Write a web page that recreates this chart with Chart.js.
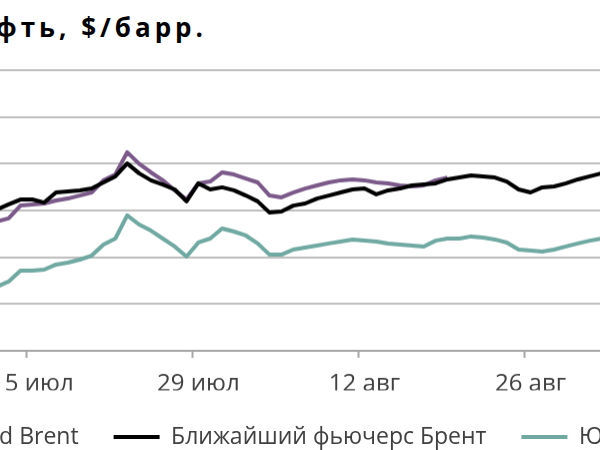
<!DOCTYPE html>
<html>
<head>
<meta charset="utf-8">
<script src="https://cdn.jsdelivr.net/npm/chart.js@4.4.1/dist/chart.umd.min.js"></script>
<style>
  html, body { margin: 0; padding: 0; background: #fff; }
  body { position: relative; width: 600px; height: 450px; overflow: hidden; }
  #title {
    position: absolute; right: 393px; top: 14px;
    font: 700 26px "Open Sans", sans-serif; line-height: 1; letter-spacing: 4px;
    color: #000; white-space: nowrap;
  }
  #wrap { position: absolute; left: -144.5px; top: 0; width: 844.6px; height: 457.5px; }
</style>
</head>
<body>
<div id="title">Цены на нефть, $/барр.</div>
<div id="wrap"><canvas id="oilChart"></canvas></div>
<script>
// daily points, 10 Jul - 8 Sep (the right end is cut off by the frame)
const categories = [
    '10 июл', '11 июл', '12 июл', '13 июл', '14 июл', '15 июл', '16 июл',
    '17 июл', '18 июл', '19 июл', '20 июл', '21 июл', '22 июл', '23 июл',
    '24 июл', '25 июл', '26 июл', '27 июл', '28 июл', '29 июл', '30 июл',
    '31 июл', '1 авг', '2 авг', '3 авг', '4 авг', '5 авг', '6 авг',
    '7 авг', '8 авг', '9 авг', '10 авг', '11 авг', '12 авг', '13 авг',
    '14 авг', '15 авг', '16 авг', '17 авг', '18 авг', '19 авг', '20 авг',
    '21 авг', '22 авг', '23 авг', '24 авг', '25 авг', '26 авг', '27 авг',
    '28 авг', '29 авг', '30 авг', '31 авг', '1 сен', '2 сен', '3 сен',
    '4 сен', '5 сен', '6 сен', '7 сен', '8 сен'
];
const tickLabels = ['15 июл', '29 июл', '12 авг', '26 авг'];

const datedBrent = [
    107.31, 107.44, 107.53, 107.66, 108.21, 108.26, 108.30,
    108.43, 108.51, 108.64, 108.77, 109.29, 109.54, 110.49,
    110.00, 109.63, 109.29, 108.86, 108.47, 109.16, 109.24,
    109.63, 109.54, 109.37, 109.20, 108.64, 108.56, 108.77,
    108.94, 109.07, 109.20, 109.29, 109.33, 109.29, 109.20,
    109.16, 109.07, 109.03, 109.07, 109.29, 109.41
];
const brentFront = [
    107.83, 107.91, 108.04, 108.26, 108.47, 108.47, 108.34,
    108.77, 108.81, 108.86, 108.94, 109.20, 109.46, 110.01,
    109.59, 109.29, 109.11, 108.90, 108.39, 109.16, 108.90,
    108.99, 108.86, 108.64, 108.39, 107.91, 107.96, 108.21,
    108.30, 108.51, 108.64, 108.77, 108.90, 108.94, 108.69,
    108.86, 108.94, 109.07, 109.11, 109.16, 109.33, 109.41,
    109.50, 109.46, 109.41, 109.24, 108.90, 108.77, 108.99,
    109.03, 109.16, 109.33, 109.46, 109.59, 109.71
];
const urals = [
    104.53, 104.61, 104.74, 104.96, 105.43, 105.43, 105.47,
    105.69, 105.77, 105.90, 106.07, 106.54, 106.80, 107.79,
    107.40, 107.14, 106.80, 106.46, 106.03, 106.63, 106.80,
    107.23, 107.10, 106.93, 106.59, 106.11, 106.11, 106.33,
    106.41, 106.50, 106.59, 106.67, 106.76, 106.71, 106.67,
    106.59, 106.54, 106.50, 106.46, 106.71, 106.80, 106.80,
    106.89, 106.84, 106.76, 106.63, 106.33, 106.29, 106.24,
    106.33, 106.46, 106.59, 106.71, 106.80, 106.93
];

const gridColor = '#bfbfbf';
const axisColor = '#a6a6a6';
const textColor = '#404040';
const font = { family: '"Open Sans", sans-serif', size: 23 };

const ctx = document.getElementById('oilChart').getContext('2d');
const chart = new Chart(ctx, {
    type: 'line',
    data: {
        labels: categories,
        datasets: [
            { label: 'Dated Brent', data: datedBrent, borderColor: '#7b5a8a', backgroundColor: '#7b5a8a', order: 1 },
            { label: 'Ближайший фьючерс Брент', data: brentFront, borderColor: '#000000', backgroundColor: '#000000', order: 0 },
            { label: 'Юралс', data: urals, borderColor: '#6fa9a2', backgroundColor: '#6fa9a2', order: 2 }
        ]
    },
    options: {
        responsive: true,
        maintainAspectRatio: false,
        animation: false,
        layout: { padding: { top: 70, right: 10, left: 0, bottom: 0 } },
        elements: {
            line: { borderWidth: 4, tension: 0, borderJoinStyle: 'round' },
            point: { radius: 0 }
        },
        scales: {
            x: {
                offset: true,
                afterFit: s => { s.height = 39.5; },
                grid: {
                    offset: true,
                    drawOnChartArea: false,
                    tickLength: 7,
                    tickWidth: 2,
                    tickColor: c => tickLabels.includes(categories[c.index]) ? axisColor : 'rgba(0,0,0,0)'
                },
                border: { color: axisColor, width: 2 },
                ticks: {
                    autoSkip: false,
                    maxRotation: 0,
                    padding: 12,
                    color: textColor,
                    font: { family: font.family, size: 24 },
                    callback: (v, i) => tickLabels.includes(categories[i]) ? categories[i] : ''
                }
            },
            y: {
                min: 102,
                max: 114,
                afterFit: s => { s.width = 111.1; },
                grid: { color: gridColor, lineWidth: 2, drawTicks: false },
                border: { display: false },
                ticks: { stepSize: 2, color: textColor, font: font }
            }
        },
        plugins: {
            legend: {
                position: 'bottom',
                align: 'start',
                labels: {
                    boxWidth: 46,
                    boxHeight: 4,
                    padding: 35,
                    color: textColor,
                    font: font,
                    sort: (a, b) => a.datasetIndex - b.datasetIndex,
                    generateLabels: c => Chart.defaults.plugins.legend.labels.generateLabels(c)
                        .map(l => Object.assign(l, { lineWidth: 0 }))
                }
            },
            tooltip: { enabled: false }
        }
    }
});
</script>
</body>
</html>
